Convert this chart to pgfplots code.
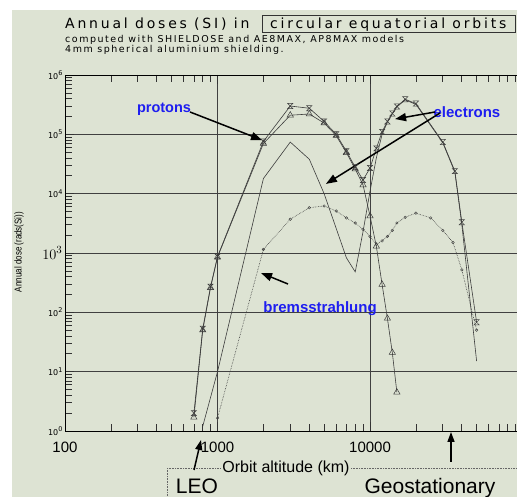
\documentclass[border=0pt]{standalone}
\usepackage{fontspec}
\setmainfont{Liberation Sans}
\newfontfamily\hershT[LetterSpace=20]{DejaVu Sans}
\newfontfamily\hershS[LetterSpace=16]{DejaVu Sans}
\newfontfamily\hersh{DejaVu Sans}
\usepackage{pgfplots}
\pgfplotsset{compat=1.18}
\usetikzlibrary{arrows.meta}
\definecolor{bg}{RGB}{221,227,211}
\definecolor{lblue}{RGB}{30,30,240}
\definecolor{curve}{RGB}{60,60,60}
\pgfdeclareplotmark{hourglass}{%
 \pgfpathmoveto{\pgfqpoint{-\pgfplotmarksize}{\pgfplotmarksize}}%
 \pgfpathlineto{\pgfqpoint{\pgfplotmarksize}{\pgfplotmarksize}}%
 \pgfpathlineto{\pgfqpoint{-\pgfplotmarksize}{-\pgfplotmarksize}}%
 \pgfpathlineto{\pgfqpoint{\pgfplotmarksize}{-\pgfplotmarksize}}%
 \pgfpathclose
 \pgfusepathqstroke}
\newcommand\ytl[1]{\mbox{\hersh\fontsize{8}{8}\selectfont 10\raisebox{3.5pt}{\fontsize{6.5}{6.5}\selectfont #1}}}
\newcommand\xtl[1]{\mbox{\fontsize{15}{15}\selectfont #1}}

\pgfplotstableread{
x y
700 2.0
800 53
900 270
1000 870
2000 7.6e4
3000 3.0e5
4000 2.75e5
5000 1.65e5
6000 1.0e5
7000 5.2e4
8000 2.8e4
9000 1.7e4
10000 2.7e4
11000 5.8e4
12000 1.1e5
13000 1.65e5
14000 2.25e5
15000 2.95e5
17000 3.9e5
20000 3.3e5
30000 7.4e4
36000 2.4e4
40000 3.3e3
50000 68
}\total

\pgfplotstableread{
x y
700 1.7
800 50
900 260
1000 850
2000 7.0e4
3000 2.1e5
4000 2.2e5
5000 1.55e5
6000 9.5e4
7000 4.9e4
8000 2.6e4
9000 1.4e4
10000 4.2e3
11000 1.3e3
12000 295
13000 79
14000 21
15000 4.5
}\protons

\pgfplotstableread{
x y
800 1.2
1000 10
2000 1.8e4
3000 7.4e4
4000 3.8e4
5000 1.0e4
6000 2.6e3
7000 830
8000 480
9000 2.3e3
10000 1.1e4
11000 4.0e4
12000 1.0e5
13000 1.6e5
14000 2.2e5
15000 2.9e5
17000 3.8e5
20000 3.2e5
30000 7.2e4
36000 2.3e4
40000 3.0e3
50000 15
}\electrons

\pgfplotstableread{
x y
1000 1.65
2000 1.15e3
3000 3.7e3
4000 5.8e3
5000 6.2e3
6000 5.1e3
7000 3.9e3
8000 3.2e3
9000 2.5e3
10000 1.9e3
11000 1.4e3
12000 1.6e3
13000 1.9e3
14000 2.4e3
15000 3.2e3
17000 4.0e3
20000 4.7e3
25000 3.9e3
30000 2.4e3
35000 1.5e3
40000 520
50000 50
}\brems

\begin{document}
\begin{tikzpicture}[x=1pt,y=1pt]
\useasboundingbox (0,0) rectangle (517,497);
\fill[bg] (12,0) rectangle (517,487);
\begin{axis}[
  at={(65pt,66pt)}, anchor=south west,
  scale only axis, width=452pt, height=356pt,
  xmode=log, ymode=log,
  xmin=100, xmax=92000, ymin=1, ymax=1e6,
  axis line style={black, line width=0.9pt},
  xtick={100,1000,10000},
  xticklabels={\xtl{100},\xtl{1000},\xtl{10000}},
  minor xtick={200,300,400,500,600,700,800,900,2000,3000,4000,5000,6000,7000,8000,9000,20000,30000,40000,50000,60000,70000,80000,90000},
  ytick={1,10,100,1000,10000,100000,1000000},
  yticklabels={\ytl{0},\ytl{1},\ytl{2},{\mbox{\fontsize{15}{15}\selectfont$10^3$}},\ytl{4},\ytl{5},\ytl{6}},
  minor ytick={2,3,4,5,6,7,8,9,20,30,40,50,60,70,80,90,200,300,400,500,600,700,800,900,2000,3000,4000,5000,6000,7000,8000,9000,2e4,3e4,4e4,5e4,6e4,7e4,8e4,9e4,2e5,3e5,4e5,5e5,6e5,7e5,8e5,9e5},
  tick align=inside,
  major tick length=9pt, minor tick length=7pt,
  every tick/.style={black!80, line width=0.7pt},
  xtick pos=both, ytick pos=left,
  xmajorgrids, ymajorgrids,
  major grid style={black!75, line width=0.9pt},
  xticklabel style={yshift=-7pt},
  yticklabel style={xshift=1pt},
]
\addplot[curve, line width=0.6pt, mark=hourglass, mark size=2.6pt, mark options={solid, line width=0.5pt}] table {\total};
\addplot[curve, line width=0.6pt, mark=triangle, mark size=3.6pt, mark options={solid, line width=0.5pt}] table {\protons};
\addplot[curve, line width=0.6pt] table {\electrons};
\addplot[curve, line width=0.6pt, densely dotted, mark=o, mark size=1.3pt, mark options={solid, line width=0.4pt}] table {\brems};

\node[font=\bfseries\fontsize{14.5}{14.5}\selectfont, text=lblue] at (axis cs:446,2.67e5) {protons};
\draw[line width=1.5pt, -{Triangle[length=11pt,width=8pt]}] (axis cs:660,2.38e5) -- (axis cs:1959,8.0e4);
\node[font=\bfseries\fontsize{15}{15}\selectfont, text=lblue] at (axis cs:43200,2.38e5) {electrons};
\draw[line width=1.5pt, -{Triangle[length=11pt,width=8pt]}] (axis cs:26700,2.38e5) -- (axis cs:14600,1.81e5);
\draw[line width=1.5pt, -{Triangle[length=11pt,width=8pt]}] (axis cs:28800,2.29e5) -- (axis cs:5140,1.46e4);
\node[font=\bfseries\fontsize{15}{15}\selectfont, text=lblue] at (axis cs:4700,114) {bremsstrahlung};
\draw[line width=1.5pt, -{Triangle[length=11pt,width=8pt]}] (axis cs:2900,300) -- (axis cs:1930,460);
\end{axis}
% titles
\node[anchor=base west, font=\hershT\fontsize{14}{14}\selectfont, inner sep=0pt] at (65,468.5) {Annual doses (SI) in};
\draw[line width=0.8pt, black!80] (262,465) rectangle (515,482);
\node[anchor=base west, font=\hershT\fontsize{14}{14}\selectfont, inner sep=0pt] at (270,468.5) {circular equatorial orbits};
\node[anchor=base west, font=\hershS\fontsize{9.5}{9.5}\selectfont, inner sep=0pt] at (65,454) {computed with SHIELDOSE and AE8MAX, AP8MAX models};
\node[anchor=base west, font=\hershS\fontsize{9.5}{9.5}\selectfont, inner sep=0pt] at (65,444) {4mm spherical aluminium shielding.};
% y label
\node[rotate=90, inner sep=0pt] at (19,245) {\scalebox{0.8}[1]{\fontsize{10}{10}\selectfont Annual dose (rads(Si))}};
% bottom
\draw[densely dotted, black!60, line width=0.6pt] (167,29) -- (517,29);
\draw[densely dotted, black!60, line width=0.6pt] (167,29) -- (167,0);
\node[fill=bg, inner sep=1pt, font=\fontsize{16}{16}\selectfont] at (286,29) {Orbit altitude (km)};
\node[anchor=base, inner sep=0pt, font=\fontsize{21}{21}\selectfont] at (197,3) {LEO};
\node[anchor=base, inner sep=0pt, font=\fontsize{21}{21}\selectfont] at (430,3) {Geostationary};
\draw[line width=1.5pt, -{Triangle[length=10pt,width=7pt]}] (194,27) -- (201,57);
\draw[line width=1.5pt, -{Triangle[length=10pt,width=7pt]}] (451,35) -- (451,65);
\end{tikzpicture}
\end{document}
